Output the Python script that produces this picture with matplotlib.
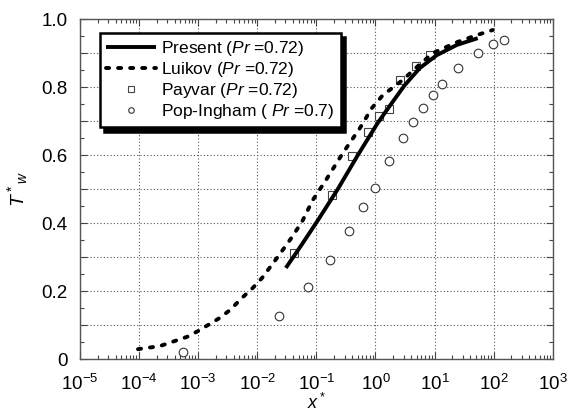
import matplotlib
matplotlib.use("Agg")
import matplotlib.pyplot as plt
import matplotlib.ticker as mticker
import numpy as np

plt.rcParams['font.family'] = ['Liberation Sans', 'DejaVu Sans']
plt.rcParams['mathtext.fontset'] = 'custom'
plt.rcParams['mathtext.rm'] = 'Liberation Sans'
plt.rcParams['mathtext.it'] = 'Liberation Sans:italic'
plt.rcParams['mathtext.bf'] = 'Liberation Sans:bold'

# Present (Pr = 0.72)
present_x = [0.0305, 0.0569, 0.106, 0.231, 0.504, 1.097, 1.89, 3.14, 5.63, 10.9, 23.8, 53.8]
present_y = [0.268, 0.337, 0.408, 0.500, 0.600, 0.695, 0.753, 0.806, 0.856, 0.894, 0.924, 0.944]

# Luikov (Pr = 0.72)
luikov_x = [9.6e-5, 2.25e-4, 6.45e-4, 9.9e-4, 2.33e-3, 3.45e-3, 5.7e-3, 8.4e-3, 0.012, 0.0215,
            0.0357, 0.0569, 0.0873, 0.139, 0.281, 0.545, 0.868, 1.33, 2.90, 5.01, 9.34, 23.8, 51.8, 96.6]
luikov_y = [0.029, 0.038, 0.065, 0.082, 0.121, 0.144, 0.182, 0.209, 0.238, 0.297,
            0.350, 0.403, 0.468, 0.521, 0.606, 0.679, 0.738, 0.776, 0.821, 0.859, 0.900, 0.932, 0.953, 0.968]

# Payvar (Pr = 0.72)
payvar_x = [0.0416, 0.183, 0.398, 0.743, 1.14, 1.70, 2.6, 4.9, 8.3]
payvar_y = [0.312, 0.482, 0.597, 0.668, 0.715, 0.735, 0.822, 0.862, 0.895]

# Pop-Ingham (Pr = 0.7)
pop_x = [5.52e-4, 0.0232, 0.0718, 0.169, 0.355, 0.611, 0.975, 1.68, 2.90, 4.29, 6.32, 9.34,
         13.3, 24.7, 53.8, 96.6, 148]
pop_y = [0.021, 0.126, 0.212, 0.291, 0.376, 0.447, 0.503, 0.582, 0.650, 0.697, 0.738, 0.776,
         0.809, 0.856, 0.900, 0.926, 0.938]

fig = plt.figure(figsize=(5.71, 4.16), dpi=100)
ax = fig.add_axes([0.140, 0.137, 0.828, 0.817])

ax.plot(present_x, present_y, color='black', lw=2.8, solid_capstyle='butt',
        solid_joinstyle='round', label='Present ($Pr$ =0.72)', zorder=3)
ax.plot(luikov_x, luikov_y, color='black', lw=2.8, dashes=(0.8, 2.3),
        dash_capstyle='round', label='Luikov ($Pr$ =0.72)', zorder=3)
ax.plot(payvar_x, payvar_y, ls='none', marker='s', ms=5.5, mfc='white', mec='#444444',
        mew=0.8, label='Payvar ($Pr$ =0.72)', zorder=2)
ax.plot(pop_x, pop_y, ls='none', marker='o', ms=6.2, mfc='white', mec='#333333',
        mew=0.8, label='Pop-Ingham ( $Pr$ =0.7)', zorder=2)

ax.set_xscale('log')
ax.set_xlim(1e-5, 1e3)
ax.set_ylim(0, 1.0)
ax.xaxis.set_major_locator(mticker.LogLocator(base=10, numticks=20))
ax.xaxis.set_minor_locator(mticker.LogLocator(base=10, subs=np.arange(2, 10), numticks=20))
ax.xaxis.set_minor_formatter(mticker.NullFormatter())

ax.yaxis.set_major_locator(mticker.MultipleLocator(0.1))
ax.yaxis.set_minor_locator(mticker.MultipleLocator(0.05))

def yfmt(v, pos):
    k = int(round(v * 10))
    if k % 2:
        return ''
    if k == 0:
        return '0'
    return '%.1f' % v
ax.yaxis.set_major_formatter(mticker.FuncFormatter(yfmt))

ax.grid(True, which='major', ls=(0, (1, 2)), color='#555555', lw=0.8)
ax.tick_params(which='both', direction='in', top=True, right=True, colors='#444444',
               labelcolor='black', labelsize=13.5)
ax.tick_params(which='major', length=5, width=0.8)
ax.tick_params(which='minor', length=3, width=0.8)
ax.tick_params(axis='x', pad=11)
ax.tick_params(axis='y', pad=9)
for s in ax.spines.values():
    s.set_color('#555555')
    s.set_linewidth(1.0)

ax.set_xlabel('$x^*$', fontsize=13, va='top')
ax.xaxis.set_label_coords(0.5, -0.100)
ax.set_ylabel('$T^*{}_w$', fontsize=14, labelpad=8)

leg = ax.legend(loc='upper left', bbox_to_anchor=(0.042, 0.959), borderaxespad=0,
                fontsize=12.5, handlelength=2.9, handletextpad=0.3, labelspacing=0.12,
                borderpad=0.35, fancybox=False, framealpha=1, edgecolor='black',
                shadow={'color': 'black', 'alpha': 1.0, 'ox': 3, 'oy': -3})
leg.get_frame().set_linewidth(1.8)
for h in leg.legend_handles:
    try:
        if h.get_marker() in ('s', 'o'):
            h.set_markersize(4)
    except Exception:
        pass

fig.savefig('out.png', dpi=100)
